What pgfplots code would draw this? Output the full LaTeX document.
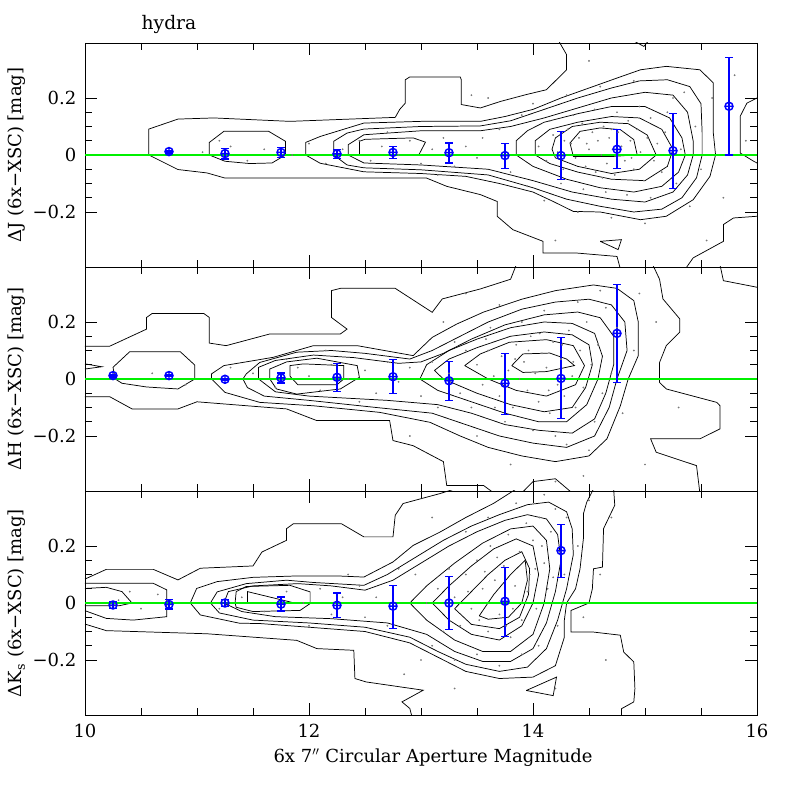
\documentclass[border=0pt]{standalone}
\usepackage{fontspec}
\setmainfont{DejaVu Serif}
\usepackage{pgfplots}
\pgfplotsset{compat=1.18}
\definecolor{ebblue}{RGB}{0,0,255}
\definecolor{zgreen}{RGB}{0,240,0}
\definecolor{dotgray}{RGB}{120,120,120}
\newcommand{\lbl}{\fontsize{13.5}{16}\selectfont}
\begin{document}
\begin{tikzpicture}
\path[use as bounding box] (-63.75pt,-63.75pt) rectangle (536.25pt,536.25pt);
\pgfplotsset{
 panel/.style={scale only axis, width=504pt, height=168pt,
   xmin=10, xmax=16, ymin=-0.393, ymax=0.393,
   xtick={10,12,14,16}, minor x tick num=3,
   ytick={-0.2,0,0.2}, minor y tick num=3,
   yticklabels={−0.2,0,0.2},
   major tick length=9pt, minor tick length=5pt,
   tick style={black, line width=0.6pt},
   axis line style={line width=0.7pt},
   tick label style={font=\lbl},
   label style={font=\lbl},
   ylabel style={at={(axis description cs:-0.101,0.5)}, anchor=center},
   yticklabel style={xshift=-3pt},
   xticklabel style={yshift=-3pt},
 },
 cont/.style={black, line width=0.55pt, no marks},
 dots/.style={only marks, mark=*, mark size=0.45pt, color=dotgray, mark options={draw=none, fill=dotgray}},
 pts/.style={ebblue, line width=1.1pt, mark=oplus, mark size=3pt, only marks,
   error bars/.cd, y dir=both, y explicit,
   error bar style={ebblue, line width=0.8pt},
   error mark options={rotate=90, ebblue, mark size=2.8pt, line width=0.8pt}},
}
% ================= bottom panel (Ks)
\begin{axis}[panel, at={(0pt,0pt)}, anchor=south west,
  xticklabels={10,12,14,16},
  xlabel={6x 7$''$ Circular Aperture Magnitude},
  xlabel style={at={(axis description cs:0.518,0)}, anchor=north, yshift=-22pt},
  ylabel={ΔK\textsubscript{s} (6x−XSC) [mag]}]
\addplot[dots] coordinates {(13.3,0.02)(13.35,-0.08)(13.4,0.1)(13.45,-0.02)(13.5,0.15)(13.55,0.05)(13.6,-0.1)(13.62,0.2)(13.66,0.08)(13.7,-0.04)(13.74,0.13)(13.78,0.24)(13.8,-0.12)(13.84,0.06)(13.88,0.18)(13.9,-0.06)(13.94,0.28)(13.97,0.1)(14.0,0.22)(14.03,-0.02)(14.06,0.3)(14.1,0.14)(14.13,0.05)(14.16,0.25)(14.2,0.33)(14.22,-0.08)(14.25,0.18)(14.28,0.1)(14.3,0.3)(14.33,0.0)(13.2,-0.1)(13.15,0.05)(13.1,-0.15)(13.25,0.12)(13.05,0.0)(13.0,-0.2)(13.3,-0.2)(13.5,-0.18)(13.7,-0.22)(13.9,-0.18)(14.05,-0.15)(12.95,0.1)(13.4,0.25)(13.6,0.3)(13.85,0.35)(12.6,0.02)(12.7,-0.08)(12.8,0.12)(12.85,-0.25)(13.1,0.3)(13.3,-0.3)(14.4,0.2)(14.45,-0.05)(14.5,0.36)(14.6,0.1)(14.65,-0.2)(14.2,-0.3)(14.7,0.3)(14.1,0.38)(11.4,0.02)(11.6,-0.03)(11.8,0.04)(11.95,0.0)(12.1,0.05)(12.2,-0.04)(12.3,0.02)(12.45,0.06)(12.5,-0.05)(12.35,0.1)(10.3,0.01)(10.5,-0.02)(10.65,0.03)(10.4,0.04)(11.2,-0.02)(12.0,-0.08)(13.57,0.11)(13.82,-0.02)(14.08,0.2)(13.68,0.16)(13.95,0.04)(13.42,0.04)(13.76,-0.08)(14.18,0.09)(13.52,-0.06)(14.02,0.12)};
\addplot[cont] coordinates {(10.0,0.084) (10.19,0.118) (10.61,0.118) (10.83,0.081) (11.03,0.122) (11.50,0.130) (11.58,0.179) (11.80,0.220) (11.80,0.261) (11.86,0.278) (12.29,0.278) (12.49,0.232) (12.75,0.232) (12.77,0.308) (12.84,0.349) (13.17,0.384) (13.3,0.40)};
\addplot[cont] coordinates {(10.0,-0.074) (10.19,-0.097) (11.09,-0.108) (11.89,-0.131) (12.07,-0.160) (12.40,-0.166) (12.41,-0.265) (12.51,-0.277) (13.02,-0.306) (12.83,-0.347) (12.90,-0.37) (12.92,-0.40)};
\addplot[cont] coordinates {(14.72,0.40) (14.73,0.343) (14.63,0.261) (14.62,0.126) (14.54,0.12) (14.53,0.05) (14.5,0.0) (14.34,-0.026) (14.34,-0.102) (14.54,-0.102) (14.78,-0.113) (14.81,-0.172) (14.90,-0.207) (14.91,-0.301) (14.90,-0.347) (14.79,-0.371) (14.79,-0.40)};
\addplot[cont] coordinates {(13.94,-0.307) (14.21,-0.260) (14.18,-0.325) (13.94,-0.307)};
\addplot[cont] coordinates {(10.0,0.069) (10.61,0.069) (10.73,0.046) (10.73,-0.048) (10.43,-0.06) (10.19,-0.054) (10.0,-0.027)};
\addplot[cont] coordinates {(10.0,0.051) (10.19,0.055) (10.33,0.04) (10.42,0.0) (10.3,-0.01) (10.0,-0.01)};
\addplot[cont] coordinates {(13.85,0.40) (13.65,0.35) (13.4,0.3) (13.17,0.249) (12.93,0.202) (12.75,0.144) (12.49,0.091) (12.25,0.095) (11.9,0.095) (11.5,0.09) (11.18,0.075) (10.997,0.051) (10.94,0.0) (11.03,-0.042) (11.38,-0.071) (11.56,-0.072) (12.0,-0.085) (12.5,-0.1) (12.9,-0.14) (13.2,-0.2) (13.4,-0.24) (13.7,-0.265) (14.0,-0.26) (14.2,-0.22) (14.28,-0.12) (14.28,-0.06) (14.3,0.0) (14.38,0.05) (14.42,0.12) (14.45,0.226) (14.45,0.313) (14.48,0.354) (14.54,0.40)};
\addplot[cont] coordinates {(11.12,0.0) (11.18,0.039) (11.44,0.068) (11.80,0.080) (12.04,0.072) (12.49,0.062) (12.7,0.1) (12.95,0.16) (13.2,0.22) (13.45,0.27) (13.7,0.31) (13.95,0.345) (14.14,0.354) (14.3,0.32) (14.35,0.26) (14.36,0.17) (14.3,0.05) (14.22,-0.06) (14.12,-0.16) (13.95,-0.225) (13.7,-0.24) (13.4,-0.215) (13.15,-0.17) (12.9,-0.12) (12.5,-0.085) (12.0,-0.07) (11.5,-0.06) (11.2,-0.035) (11.12,0.0)};
\addplot[cont] coordinates {(11.24,0.0) (11.28,0.04) (11.5,0.06) (11.9,0.068) (12.2,0.06) (12.5,0.045) (12.75,0.08) (13.0,0.14) (13.25,0.2) (13.5,0.25) (13.75,0.29) (13.95,0.31) (14.12,0.295) (14.22,0.24) (14.25,0.15) (14.2,0.04) (14.12,-0.07) (14.0,-0.16) (13.8,-0.205) (13.55,-0.205) (13.3,-0.17) (13.05,-0.11) (12.7,-0.07) (12.2,-0.055) (11.7,-0.048) (11.4,-0.03) (11.24,0.0)};
\addplot[cont] coordinates {(11.34,0.0) (11.35,0.04) (11.44,0.058) (11.83,0.062) (12.01,0.039) (12.01,-0.002) (11.92,-0.026) (11.5,-0.03) (11.35,-0.015) (11.34,0.0)};
\addplot[cont] coordinates {(11.45,0.0) (11.45,0.04) (11.87,0.0) (11.45,0.0)};
\addplot[cont] coordinates {(12.9,0.0) (13.05,0.06) (13.3,0.14) (13.55,0.21) (13.8,0.26) (14.0,0.27) (14.12,0.22) (14.15,0.12) (14.1,0.0) (14.0,-0.11) (13.8,-0.17) (13.55,-0.17) (13.3,-0.13) (13.05,-0.06) (12.9,0.0)};
\addplot[cont] coordinates {(13.1,0.0) (13.25,0.06) (13.45,0.13) (13.65,0.19) (13.85,0.225) (14.0,0.2) (14.05,0.1) (14.0,0.0) (13.9,-0.08) (13.7,-0.13) (13.45,-0.11) (13.25,-0.06) (13.1,0.0)};
\addplot[cont] coordinates {(13.3,-0.02) (13.45,0.04) (13.6,0.1) (13.75,0.15) (13.9,0.18) (13.97,0.12) (13.96,0.03) (13.88,-0.05) (13.7,-0.09) (13.45,-0.075) (13.3,-0.02)};
\addplot[cont] coordinates {(13.52,-0.045) (13.65,0.03) (13.8,0.1) (13.93,0.15) (13.95,0.08) (13.9,0.0) (13.78,-0.05) (13.6,-0.057) (13.52,-0.045)};
\addplot[color=zgreen, line width=0.8pt] coordinates {(10,0) (16,0)};
\addplot[pts] coordinates {
 (10.25,-0.007) += (0,0.013) -= (0,0.013)
 (10.75,-0.005) += (0,0.016) -= (0,0.016)
 (11.25,0.0) += (0,0.012) -= (0,0.012)
 (11.75,-0.004) += (0,0.025) -= (0,0.024)
 (12.25,-0.008) += (0,0.043) -= (0,0.042)
 (12.75,-0.011) += (0,0.074) -= (0,0.078)
 (13.25,0.0) += (0,0.092) -= (0,0.092)
 (13.75,0.006) += (0,0.119) -= (0,0.125)
 (14.25,0.184) += (0,0.093) -= (0,0.094)
};
\end{axis}
% ================= middle panel (H)
\begin{axis}[panel, at={(0pt,168pt)}, anchor=south west, xticklabels={},
  ylabel={ΔH (6x−XSC) [mag]}]
\addplot[dots] coordinates {(13.5,0.05)(13.55,-0.02)(13.6,0.1)(13.65,0.01)(13.7,-0.06)(13.72,0.08)(13.78,0.03)(13.82,-0.1)(13.85,0.12)(13.88,0.0)(13.92,0.06)(13.95,-0.04)(13.98,0.15)(14.02,0.02)(14.05,-0.08)(14.08,0.09)(14.12,0.04)(14.15,-0.12)(14.18,0.13)(14.22,-0.02)(14.25,0.07)(14.28,-0.06)(14.32,0.17)(14.35,0.01)(14.38,-0.1)(14.42,0.1)(14.45,-0.03)(14.48,0.2)(14.52,0.05)(14.55,-0.15)(14.58,0.12)(14.62,-0.05)(14.65,0.25)(14.7,0.02)(13.4,0.1)(13.35,-0.05)(13.3,0.13)(13.25,0.02)(13.45,-0.1)(13.62,0.18)(13.75,-0.15)(13.9,0.2)(14.0,-0.18)(14.1,0.24)(14.2,-0.2)(14.4,0.27)(14.3,-0.23)(14.5,-0.25)(14.75,0.18)(14.8,-0.12)(13.1,0.06)(13.15,-0.1)(13.2,0.2)(13.5,-0.2)(13.7,0.26)(13.8,-0.3)(14.6,0.31)(14.9,0.1)(15.0,-0.3)(14.95,0.3)(14.2,-0.36)(15.1,0.2)(15.3,-0.1)(13.4,0.3)(12.9,-0.2)(14.45,-0.34)(11.5,0.02)(11.7,-0.03)(11.9,0.04)(12.0,0.01)(12.1,-0.04)(12.2,0.05)(12.35,0.0)(12.5,0.03)(12.6,-0.05)(12.7,0.06)(12.8,-0.01)(12.9,0.04)(13.0,-0.06)(11.8,0.07)(12.45,-0.08)(12.15,0.1)(10.6,0.02)(10.9,-0.02)(11.3,0.04)(13.58,0.14)(13.84,0.07)(14.06,0.16)(14.26,0.12)(13.66,-0.1)(14.14,-0.04)(14.36,0.06)(13.96,0.1)};
\addplot[cont] coordinates {(10.0,0.115) (10.22,0.115) (10.55,0.175) (10.55,0.216) (10.60,0.230) (11.06,0.230) (11.11,0.216) (11.11,0.126) (11.26,0.117) (11.65,0.158) (12.28,0.158) (12.34,0.175) (12.20,0.216) (12.20,0.31) (12.28,0.318) (12.77,0.318) (13.10,0.234) (13.19,0.281) (13.53,0.316) (13.8,0.35) (13.85,0.40)};
\addplot[cont] coordinates {(10.0,-0.062) (10.22,-0.062) (10.42,-0.105) (10.83,-0.105) (11.0,-0.08) (11.80,-0.105) (12.07,-0.146) (12.72,-0.146) (12.75,-0.216) (12.93,-0.234) (13.20,-0.29) (13.23,-0.374) (13.56,-0.374) (13.65,-0.40)};
\addplot[cont] coordinates {(15.07,0.40) (15.13,0.35) (15.16,0.281) (15.31,0.211) (15.31,0.164) (15.19,0.117) (15.13,0.058) (15.13,-0.012) (15.19,-0.035) (15.64,-0.082) (15.67,-0.094) (15.67,-0.175) (15.49,-0.21) (15.05,-0.21) (15.10,-0.257) (15.46,-0.304) (15.49,-0.40)};
\addplot[cont] coordinates {(15.67,0.40) (15.70,0.345) (16.0,0.322)};
\addplot[cont] coordinates {(10.0,0.053) (10.15,0.043) (10.0,0.035)};
\addplot[cont] coordinates {(13.9,-0.40) (14.0,-0.36) (14.2,-0.35) (14.35,-0.40)};
\addplot[cont] coordinates {(10.25,0.041) (10.40,0.096) (10.85,0.096) (10.98,0.049) (10.98,0.0) (10.83,-0.035) (10.55,-0.028) (10.33,-0.015) (10.27,0.0) (10.25,0.041)};
\addplot[cont] coordinates {(11.13,0) (11.13,0.018) (11.24,0.047) (11.68,0.076) (12.04,0.117) (12.43,0.117) (12.93,0.082) (13.10,0.146) (13.32,0.193) (13.56,0.235) (13.9,0.28) (14.2,0.31) (14.54,0.33) (14.75,0.318) (14.9,0.275) (14.94,0.2) (14.94,0.082) (14.85,0.0) (14.78,-0.094) (14.66,-0.21) (14.5,-0.27) (14.2,-0.29) (13.9,-0.27) (13.6,-0.24) (13.35,-0.2) (13.08,-0.152) (12.63,-0.117) (12.04,-0.094) (11.56,-0.082) (11.25,-0.047) (11.13,0)};
\addplot[cont] coordinates {(11.41,0) (11.44,0.018) (11.56,0.058) (11.89,0.094) (12.2,0.1) (12.5,0.09) (12.9,0.07) (13.1,0.1) (13.35,0.15) (13.6,0.2) (13.9,0.245) (14.2,0.27) (14.5,0.28) (14.7,0.26) (14.82,0.2) (14.84,0.1) (14.75,0.0) (14.68,-0.1) (14.55,-0.2) (14.3,-0.24) (14.0,-0.225) (13.7,-0.2) (13.4,-0.16) (13.1,-0.12) (12.6,-0.1) (12.0,-0.075) (11.6,-0.06) (11.45,-0.03) (11.41,0)};
\addplot[cont] coordinates {(11.55,0) (11.55,0.041) (11.7,0.065) (12.04,0.084) (12.4,0.075) (12.8,0.055) (13.0,0.06) (13.2,0.09) (13.45,0.14) (13.75,0.19) (14.1,0.225) (14.4,0.235) (14.6,0.215) (14.72,0.15) (14.72,0.05) (14.65,-0.05) (14.55,-0.14) (14.35,-0.19) (14.05,-0.18) (13.75,-0.16) (13.45,-0.12) (13.15,-0.09) (12.7,-0.075) (12.0,-0.06) (11.7,-0.045) (11.55,0)};
\addplot[cont] coordinates {(11.65,0) (11.65,0.035) (11.8,0.06) (12.07,0.073) (12.43,0.047) (12.45,0.006) (12.28,-0.035) (11.89,-0.053) (11.71,-0.035) (11.65,0)};
\addplot[cont] coordinates {(11.83,0.01) (11.83,0.047) (11.95,0.053) (12.31,0.047) (12.31,0.0) (12.25,-0.02) (11.9,-0.02) (11.83,0.01)};
\addplot[cont] coordinates {(12.99,0.0) (13.05,0.05) (13.25,0.1) (13.5,0.14) (13.8,0.18) (14.1,0.2) (14.35,0.195) (14.55,0.16) (14.62,0.08) (14.58,0.0) (14.48,-0.09) (14.3,-0.15) (14.05,-0.15) (13.75,-0.12) (13.45,-0.08) (13.15,-0.04) (12.99,0.0)};
\addplot[cont] coordinates {(13.12,0.03) (13.25,0.07) (13.5,0.11) (13.8,0.15) (14.1,0.165) (14.35,0.155) (14.5,0.12) (14.53,0.05) (14.47,-0.03) (14.35,-0.1) (14.1,-0.115) (13.8,-0.09) (13.5,-0.05) (13.2,0.0) (13.12,0.03)};
\addplot[cont] coordinates {(13.39,0.047) (13.53,0.088) (13.79,0.129) (14.12,0.138) (14.36,0.117) (14.46,0.047) (14.38,-0.02) (14.12,-0.06) (13.85,-0.04) (13.6,0.0) (13.39,0.047)};
\addplot[cont] coordinates {(13.81,0.047) (13.91,0.088) (14.15,0.091) (14.30,0.07) (14.37,0.047) (14.12,0.026) (13.91,0.023) (13.81,0.047)};
\addplot[color=zgreen, line width=0.8pt] coordinates {(10,0) (16,0)};
\addplot[pts] coordinates {
 (10.25,0.012) += (0,0.005) -= (0,0.005)
 (10.75,0.012) += (0,0.004) -= (0,0.004)
 (11.25,-0.001) += (0,0.003) -= (0,0.003)
 (11.75,0.004) += (0,0.017) -= (0,0.018)
 (12.25,0.006) += (0,0.05) -= (0,0.05)
 (12.75,0.008) += (0,0.059) -= (0,0.059)
 (13.25,-0.006) += (0,0.068) -= (0,0.071)
 (13.75,-0.015) += (0,0.106) -= (0,0.108)
 (14.25,0.002) += (0,0.142) -= (0,0.141)
 (14.75,0.16) += (0,0.173) -= (0,0.173)
};
\end{axis}
% ================= top panel (J)
\begin{axis}[panel, at={(0pt,336pt)}, anchor=south west, xticklabels={},
  ylabel={ΔJ (6x−XSC) [mag]},
  title={hydra}, title style={at={(axis description cs:0.125,1)}, anchor=base, yshift=4pt, font=\fontsize{14}{16}\selectfont}]
\addplot[dots] coordinates {(14.05,0.03)(14.12,-0.02)(14.18,0.07)(14.22,0.01)(14.27,-0.05)(14.31,0.09)(14.34,0.04)(14.38,-0.01)(14.41,0.06)(14.44,0.11)(14.47,-0.04)(14.5,0.02)(14.53,0.08)(14.56,-0.06)(14.58,0.05)(14.61,0.0)(14.63,0.1)(14.66,-0.03)(14.68,0.06)(14.71,0.02)(14.73,-0.07)(14.76,0.08)(14.79,0.03)(14.82,-0.02)(14.85,0.12)(14.87,0.05)(14.9,-0.05)(14.93,0.09)(14.96,0.01)(14.99,-0.09)(15.02,0.06)(15.05,0.13)(15.08,-0.02)(15.11,0.04)(15.15,-0.06)(15.18,0.08)(14.15,0.12)(14.25,-0.1)(14.36,0.14)(14.45,-0.12)(14.55,0.16)(14.65,-0.13)(14.75,0.15)(14.84,-0.14)(14.95,0.17)(15.05,-0.15)(15.2,0.15)(15.28,-0.1)(15.32,0.02)(15.25,0.2)(13.7,0.09)(13.8,-0.06)(13.9,0.14)(13.95,-0.11)(14.0,0.18)(14.1,-0.16)(14.3,0.21)(14.4,-0.2)(14.6,0.24)(14.7,-0.22)(14.9,0.26)(15.0,-0.24)(15.35,0.22)(15.4,-0.18)(15.45,0.1)(15.5,-0.05)(15.6,0.2)(15.7,-0.15)(15.8,0.28)(15.55,-0.3)(14.2,-0.3)(14.5,0.33)(13.6,0.2)(15.9,0.05)(11.05,0.01)(11.3,0.03)(11.45,-0.02)(11.6,0.02)(11.85,0.0)(12.0,0.04)(12.15,-0.03)(12.3,0.02)(12.45,0.05)(12.55,-0.02)(12.65,0.03)(12.8,0.0)(12.9,0.05)(13.0,-0.03)(13.1,0.02)(13.2,0.06)(13.3,-0.04)(13.4,0.03)(13.5,-0.01)(13.55,0.06)(12.7,0.08)(13.15,-0.07)(11.2,0.05)(13.45,0.21)(14.48,0.04)(14.7,0.09)(14.88,-0.01)(14.62,-0.08)(14.28,0.05)};
\addplot[cont] coordinates {(14.23,0.40) (14.30,0.352) (14.30,0.299) (14.12,0.229) (13.94,0.212) (13.71,0.188) (13.53,0.165) (13.36,0.177) (13.36,0.264) (13.35,0.274) (12.90,0.274) (12.86,0.264) (12.86,0.182) (12.81,0.160) (12.77,0.132) (11.83,0.118) (11.15,0.130) (10.83,0.126) (10.57,0.091) (10.57,0.0) (10.83,-0.051) (11.09,-0.063) (11.25,-0.081) (13.05,-0.081) (13.23,-0.110) (13.53,-0.139) (13.68,-0.163) (13.68,-0.215) (13.82,-0.262) (14.09,-0.303) (14.09,-0.344) (14.39,-0.344) (14.75,-0.356) (14.78,-0.40)};
\addplot[cont] coordinates {(15.36,-0.40) (15.43,-0.361) (15.70,-0.303) (15.70,-0.244) (15.79,-0.221) (16.0,-0.215)};
\addplot[cont] coordinates {(16.0,0.2) (15.91,0.182) (15.85,0.136) (15.85,0.007) (15.97,-0.022) (16.0,-0.028)};
\addplot[cont] coordinates {(14.90,0.40) (14.99,0.381) (15.03,0.40)};
\addplot[cont] coordinates {(14.60,-0.303) (14.79,-0.297) (14.76,-0.332) (14.60,-0.303)};
\addplot[cont] coordinates {(11.11,0) (11.11,0.044) (11.24,0.083) (11.64,0.083) (11.79,0.048) (11.79,0) (11.67,-0.028) (11.47,-0.030) (11.25,-0.022) (11.11,0)};
\addplot[cont] coordinates {(11.97,0) (11.97,0.044) (12.10,0.065) (12.49,0.112) (13.0,0.118) (13.53,0.118) (13.75,0.135) (14.0,0.16) (14.25,0.2) (14.5,0.235) (14.75,0.27) (14.96,0.299) (15.19,0.311) (15.49,0.299) (15.61,0.253) (15.61,0.077) (15.63,0.0) (15.58,-0.075) (15.43,-0.157) (15.19,-0.215) (14.96,-0.227) (14.6,-0.2) (14.36,-0.198) (14.18,-0.163) (14.0,-0.13) (13.7,-0.1) (13.4,-0.075) (13.0,-0.065) (12.49,-0.059) (12.1,-0.029) (11.97,0)};
\addplot[cont] coordinates {(12.22,0) (12.22,0.048) (12.34,0.077) (12.49,0.091) (13.0,0.1) (13.53,0.102) (13.8,0.12) (14.1,0.16) (14.4,0.2) (14.7,0.235) (14.95,0.26) (15.2,0.264) (15.4,0.24) (15.5,0.18) (15.51,0.08) (15.51,0.0) (15.46,-0.08) (15.33,-0.15) (15.15,-0.19) (14.9,-0.2) (14.6,-0.18) (14.3,-0.155) (14.0,-0.115) (13.6,-0.07) (13.0,-0.052) (12.49,-0.045) (12.34,-0.035) (12.22,0)};
\addplot[cont] coordinates {(12.35,0) (12.35,0.036) (12.49,0.071) (13.0,0.085) (13.53,0.085) (13.8,0.1) (14.1,0.13) (14.4,0.165) (14.7,0.2) (15.0,0.22) (15.25,0.21) (15.38,0.15) (15.43,0.05) (15.43,0.0) (15.38,-0.07) (15.25,-0.13) (15.0,-0.165) (14.7,-0.155) (14.35,-0.13) (14.0,-0.09) (13.6,-0.05) (13.0,-0.035) (12.49,-0.028) (12.35,0)};
\addplot[cont] coordinates {(12.45,0) (12.45,0.048) (12.5,0.055) (12.93,0.06) (13.04,0.045) (12.98,0) (12.45,0)};
\addplot[cont] coordinates {(13.85,0.0) (13.85,0.05) (13.95,0.085) (14.1,0.115) (14.4,0.145) (14.7,0.17) (15.0,0.17) (15.22,0.13) (15.33,0.06) (15.36,0.0) (15.3,-0.06) (15.15,-0.11) (14.9,-0.13) (14.6,-0.115) (14.3,-0.085) (14.0,-0.04) (13.85,0.0)};
\addplot[cont] coordinates {(14.02,0.0) (14.02,0.05) (14.15,0.09) (14.4,0.115) (14.7,0.135) (14.95,0.13) (15.15,0.09) (15.25,0.02) (15.2,-0.04) (15.0,-0.09) (14.7,-0.085) (14.4,-0.06) (14.15,-0.03) (14.02,0.0)};
\addplot[cont] coordinates {(14.17,0.02) (14.2,0.06) (14.35,0.1) (14.6,0.115) (14.85,0.11) (15.02,0.07) (15.1,0.0) (14.95,-0.05) (14.7,-0.065) (14.4,-0.04) (14.2,-0.01) (14.17,0.02)};
\addplot[cont] coordinates {(14.33,0.042) (14.42,0.083) (14.60,0.095) (14.78,0.089) (14.90,0.054) (14.93,0.001) (14.72,-0.005) (14.36,-0.005) (14.33,0.042)};
\addplot[color=zgreen, line width=0.8pt] coordinates {(10,0) (16,0)};
\addplot[pts] coordinates {
 (10.75,0.012) += (0,0.005) -= (0,0.005)
 (11.25,0.005) += (0,0.019) -= (0,0.019)
 (11.75,0.009) += (0,0.018) -= (0,0.018)
 (12.25,0.004) += (0,0.014) -= (0,0.017)
 (12.75,0.009) += (0,0.02) -= (0,0.02)
 (13.25,0.008) += (0,0.034) -= (0,0.036)
 (13.75,-0.002) += (0,0.043) -= (0,0.047)
 (14.25,-0.002) += (0,0.086) -= (0,0.083)
 (14.75,0.02) += (0,0.068) -= (0,0.069)
 (15.25,0.015) += (0,0.129) -= (0,0.131)
 (15.75,0.171) += (0,0.172) -= (0,0.171)
};
\end{axis}
\end{tikzpicture}
\end{document}
